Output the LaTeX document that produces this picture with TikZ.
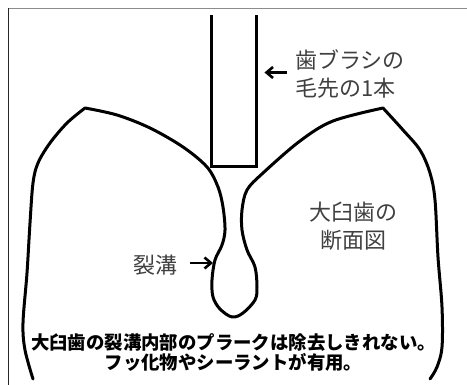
\documentclass[tikz,border=0pt]{standalone}
\usepackage{fontspec}
\newfontfamily\jpfont{Noto Sans CJK JP}
\definecolor{labelgrey}{HTML}{404040}
\definecolor{framegrey}{HTML}{8C8C8C}
\begin{document}
\begin{tikzpicture}[x=1pt,y=-1pt,
  outline/.style={line width=3pt, line join=round, line cap=round, black},
  pointer/.style={line width=2.6pt, line cap=butt, line join=miter},
  label/.style={font=\jpfont\fontsize{22}{28}\selectfont, text=labelgrey, inner sep=0pt},
  caption/.style={font=\jpfont\bfseries\fontsize{18.4}{19.5}\selectfont, text=black, inner sep=0pt, align=center}]
  \useasboundingbox (0,0) rectangle (467,385);
  % frame (top and left edges only)
  \draw[framegrey, line width=1pt] (8,385) -- (8,8.5) -- (467,8.5);
  \draw[black!85, line width=1pt] (8,385) -- (8,8.5);

  % bristle of the toothbrush
  \draw[outline, line cap=butt, line join=miter] (211.5,15) -- (211.5,166.5) -- (256,166.5) -- (256,15);

  % cross-section of the molar with its fissure
  \draw[outline]
    plot[smooth, tension=0.55] coordinates {(33,379) (25,350) (23,323) (27,273) (30,223) (33,183) (38,163) (50,143) (67,123) (85,108)}
    -- plot[smooth, tension=0.55] coordinates {(85,108) (117,115) (150,128) (183,147) (207,167) (218,187) (223,207) (225,230) (222,245) (215,260) (212,280) (213,297) (220,309) (232,317) (243,313) (255,300) (257,287) (255,267) (247,250) (242,230) (242,210) (247,190) (263,173) (300,141) (333,121) (383,108)}
    -- plot[smooth, tension=0.55] coordinates {(383,108) (403,130) (420,150) (430,173) (435,200) (438,257) (442,307) (442,347) (437,367) (430,379)};

  % labels
  \node[label, align=left, anchor=west] (brush) at (295,74) {歯ブラシの\\毛先の1本};
  \node[label, align=center] (molar) at (353,226) {大臼歯の\\断面図};
  \node[label] (fissure) at (155,265) {裂溝};
  \node[caption] (note) at (233.5,352.5) {大臼歯の裂溝内部のプラークは除去しきれない。\\フッ化物やシーラントが有用。};

  % pointers: shaft plus a bold chevron head
  \coordinate (brushtail) at (287,72.5);
  \coordinate (brushtip) at (266.5,72.5);
  \coordinate (fissuretail) at (190,263);
  \coordinate (fissuretip) at (211,263);
  \draw[pointer] (brushtail) -- (brushtip);
  \draw[pointer] (brushtip) ++(6.5,-5.5) -- (brushtip) -- ++(6.5,5.5);
  \draw[pointer] (fissuretail) -- (fissuretip);
  \draw[pointer] (fissuretip) ++(-6.5,-5.5) -- (fissuretip) -- ++(-6.5,5.5);
\end{tikzpicture}
\end{document}
